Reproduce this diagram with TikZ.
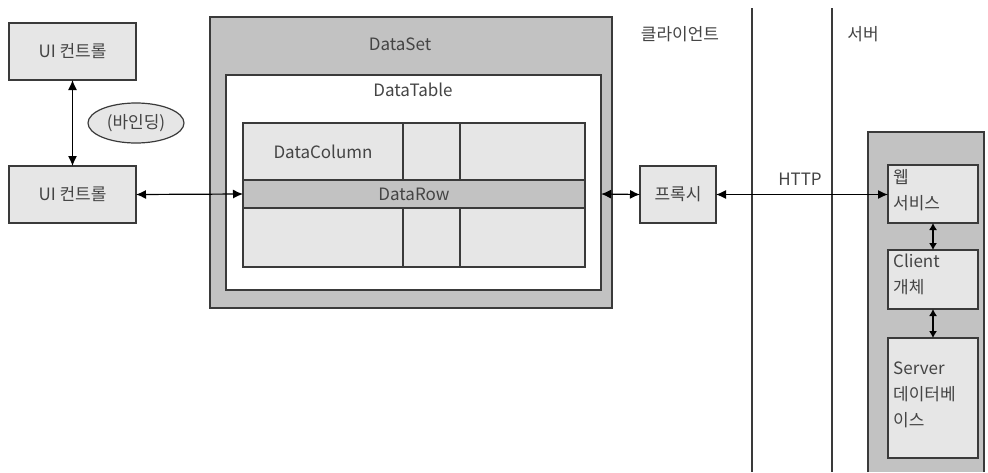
\documentclass[tikz,border=0pt]{standalone}
\usepackage{fontspec}
\setmainfont{Noto Sans CJK KR}
\usetikzlibrary{arrows.meta,shapes.geometric}
\definecolor{boxlight}{HTML}{E6E6E6}
\definecolor{boxdark}{HTML}{C2C2C2}
\definecolor{edge}{HTML}{3A3A3A}
\definecolor{ink}{HTML}{444444}
\tikzset{
  every node/.style={text=ink, font=\fontsize{17}{26}\selectfont},
  lightbox/.style={draw=edge, line width=1.3pt, fill=boxlight, inner sep=0pt, outer sep=0pt, anchor=north west},
  darkbox/.style={draw=edge, line width=1.3pt, fill=boxdark, inner sep=0pt, outer sep=0pt, anchor=north west},
  whitebox/.style={draw=edge, line width=1.3pt, fill=white, inner sep=0pt, outer sep=0pt, anchor=north west},
  link/.style={draw=black, line width=1.2pt, {Latex[length=10pt,width=9pt]}-{Latex[length=10pt,width=9pt]}},
  shortlink/.style={draw=black, line width=1.2pt, {Latex[length=7pt,width=8pt]}-{Latex[length=7pt,width=8pt]}},
  divider/.style={draw=edge, line width=1.1pt},
  corner/.style={anchor=north west, inner sep=0pt, align=left}
}
\begin{document}
\begin{tikzpicture}[x=1pt,y=-1pt]
\useasboundingbox (0,0) rectangle (988,472);
\fill[white] (0,0) rectangle (988,472);

% client side: data binding between UI controls
\node[lightbox, minimum width=127pt, minimum height=57pt] (ui1) at (9,23) {UI 컨트롤};
\node[lightbox, minimum width=127pt, minimum height=57pt] (ui2) at (9,166) {UI 컨트롤};
\draw[link] (ui1.south) -- (ui2.north);
\node[ellipse, draw=edge, line width=1.2pt, fill=boxlight, minimum width=96pt, minimum height=40pt, inner sep=0pt] (bind) at (136,123) {(바인딩)};

% DataSet containing a DataTable
\node[darkbox, minimum width=402pt, minimum height=291pt] (ds) at (210,17) {};
\node (dslabel) at (400,44) {DataSet};
\node[whitebox, minimum width=375pt, minimum height=215pt] (dt) at (226,75) {};
\node (dtlabel) at (413,90) {DataTable};

% table grid
\node[lightbox, minimum width=160pt, minimum height=57pt] (c11) at (243,123) {};
\node[lightbox, minimum width=57pt, minimum height=57pt] (c12) at (403,123) {};
\node[lightbox, minimum width=125pt, minimum height=57pt] (c13) at (460,123) {};
\node[darkbox, minimum width=342pt, minimum height=28pt] (row) at (243,180) {DataRow};
\node[lightbox, minimum width=160pt, minimum height=59pt] (c31) at (243,208) {};
\node[lightbox, minimum width=57pt, minimum height=59pt] (c32) at (403,208) {};
\node[lightbox, minimum width=125pt, minimum height=59pt] (c33) at (460,208) {};
\node (dclabel) at (323,152) {DataColumn};

% proxy and HTTP link
\node[lightbox, minimum width=76pt, minimum height=57pt] (proxy) at (640,166) {프록시};
\draw[link] (ui2.east) -- (row.west);
\draw[link] (dt.east |- row.east) -- (proxy.west);

% tier boundaries
\coordinate (d1top) at (752,8);
\coordinate (d1bot) at (752,472);
\coordinate (d2top) at (832,8);
\coordinate (d2bot) at (832,472);
\draw[divider] (d1top) -- (d1bot);
\draw[divider] (d2top) -- (d2bot);
\node (client) at (680,34) {클라이언트};
\node (server) at (863,34) {서버};

% server side container
\fill[boxdark] (868,472) -- (868,132) -- (984,132) -- (984,472) -- cycle;
\draw[edge, line width=1.3pt] (868,472) -- (868,132) -- (984,132) -- (984,472);

\node[lightbox, minimum width=90pt, minimum height=58pt] (ws) at (888,165) {};
\node[corner] (wstext) at (893,169) {웹\\서비스};
\node[lightbox, minimum width=90pt, minimum height=59pt] (co) at (888,250) {};
\node[corner] (cotext) at (893,254) {Client\\개체};
\node[lightbox, minimum width=90pt, minimum height=120pt] (db) at (888,338) {};
\node[corner] (dbtext) at (893,362) {Server\\데이터베\\이스};

\draw[link] (proxy.east) -- (ws.west |- proxy.east) node[midway, above=5pt, xshift=-2pt] (http) {HTTP};
\draw[shortlink] (ws.south) -- (co.north);
\draw[shortlink] (co.south) -- (db.north);
\end{tikzpicture}
\end{document}
